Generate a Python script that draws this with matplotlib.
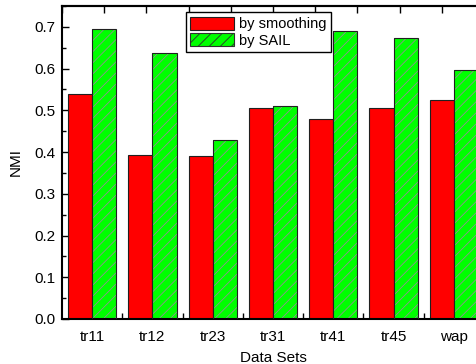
import numpy as np
import matplotlib.pyplot as plt
from matplotlib.ticker import MultipleLocator

plt.rcParams['font.family'] = ['Liberation Sans', 'DejaVu Sans']
plt.rcParams['hatch.linewidth'] = 0.6

datasets = ['tr11', 'tr12', 'tr23', 'tr31', 'tr41', 'tr45', 'wap']
by_smoothing = [0.540, 0.393, 0.391, 0.506, 0.480, 0.506, 0.525]
by_sail = [0.695, 0.637, 0.428, 0.511, 0.690, 0.673, 0.596]

x = np.arange(1, len(datasets) + 1)
w = 0.4

fig = plt.figure(figsize=(4.77, 3.64), dpi=100)
ax = fig.add_axes([62 / 477, 45 / 364, 422 / 477, 313 / 364])

ax.bar(x - w / 2, by_smoothing, w, color='#ff0000', edgecolor='#202020', linewidth=0.8,
       label='by smoothing', zorder=2)
ax.bar(x + w / 2, by_sail, w, color='#00ff00', edgecolor='#909090', hatch='///',
       linewidth=0, zorder=2)
ax.bar(x + w / 2, by_sail, w, fill=False, edgecolor='#202020', linewidth=0.8, zorder=3)
# proxy for legend
ax.bar([0], [0], w, color='#00ff00', edgecolor='#303030', hatch='///', linewidth=0.8,
       label='by SAIL')

ax.set_xlim(0.5, 7.5)
ax.set_ylim(0, 0.75)
ax.set_xticks(x)
ax.set_xticklabels(datasets)
ax.set_xticks(np.arange(1.5, 7.5, 1), minor=True)
ax.yaxis.set_major_locator(MultipleLocator(0.1))
ax.yaxis.set_minor_locator(MultipleLocator(0.05))
ax.tick_params(axis='x', which='major', length=0, labelsize=11, pad=8)
ax.tick_params(axis='x', which='minor', direction='in', length=4, width=1)
ax.tick_params(axis='y', which='major', direction='in', length=5, width=1, labelsize=11, pad=5)
ax.tick_params(axis='y', which='minor', direction='in', length=3, width=1)

for s in ['left', 'bottom', 'top']:
    ax.spines[s].set_linewidth(1.5)
ax.spines['right'].set_visible(False)

# top axis ticks
top = ax.secondary_xaxis('top', functions=(lambda v: (v - 0.5) / 7 * 10, lambda v: v / 10 * 7 + 0.5))
top.set_xticks(np.arange(0, 11, 1))
top.set_xticklabels([])
top.tick_params(direction='in', length=5, width=1)
top.spines['top'].set_linewidth(1.5)

ax.set_xlabel('Data Sets', fontsize=11, labelpad=5)
ax.set_ylabel('NMI', fontsize=11, labelpad=8)

leg = ax.legend(loc='upper left', bbox_to_anchor=(0.293, 0.98), fontsize=10.5, fancybox=False,
                edgecolor='black', framealpha=1, borderpad=0.3, handlelength=3.0,
                handleheight=1.0, handletextpad=0.35, labelspacing=0.15, borderaxespad=0)
leg.get_frame().set_linewidth(1)

fig.savefig('out.png', dpi=100)
